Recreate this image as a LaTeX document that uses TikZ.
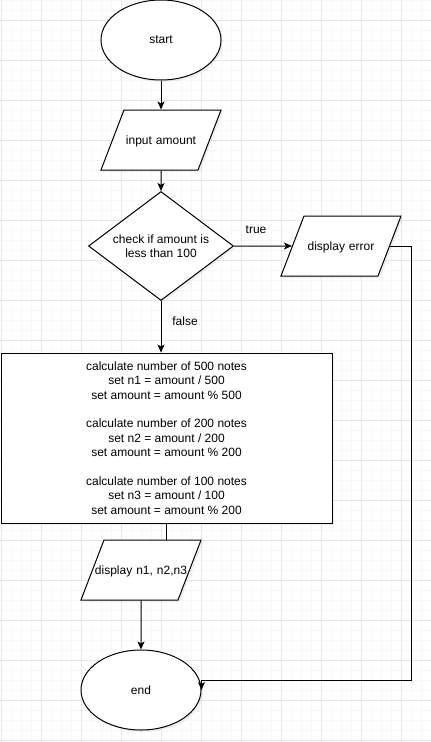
\documentclass[tikz,border=0pt]{standalone}
\usepackage{fontspec}
\setmainfont{Liberation Sans}
\usetikzlibrary{shapes.geometric, arrows.meta, shadows}
\definecolor{gridminor}{HTML}{F7F7F7}
\definecolor{gridmajor}{HTML}{E6E6E6}

\begin{document}
\begin{tikzpicture}[x = 1pt, y = -1pt,
  every node/.style = {font = \fontsize{12}{14.4}\selectfont, inner sep = 0pt},
  shade/.style = {drop shadow = {shadow xshift = 2pt, shadow yshift = -2pt, opacity = 0.12}},
  terminal/.style = {ellipse, draw, fill = white, line width = 1pt, minimum width = 120pt, minimum height = 80pt, shade},
  io/.style = {trapezium, trapezium left angle = 69, trapezium right angle = 111, draw, fill = white, line width = 1pt, text width = 74pt, text height = 34pt, text depth = 26pt, align = center, shade},
  decision/.style = {diamond, aspect = 1.33, draw, fill = white, line width = 1pt, minimum width = 145pt, minimum height = 109pt, align = center, shade},
  process/.style = {rectangle, draw, fill = white, line width = 1pt, minimum width = 331pt, minimum height = 170pt, align = center, shade},
  flow/.style = {line width = 1pt, -{Stealth[length = 8pt, width = 7pt, inset = 2pt]}},
  lbl/.style = {inner sep = 0pt}]
\useasboundingbox (0,0) rectangle (431,742);
\fill[white] (0,0) rectangle (431,742);
% grid
\foreach \x in {1,11,...,431} \draw[gridminor, line width = 1pt] (\x,0) -- (\x,742);
\foreach \y in {0,10,...,742} \draw[gridminor, line width = 1pt] (0,\y) -- (431,\y);
\foreach \x in {1,41,...,431} \draw[gridmajor, line width = 1pt] (\x,0) -- (\x,742);
\foreach \y in {20,60,...,742} \draw[gridmajor, line width = 1pt] (0,\y) -- (431,\y);

\node[terminal] (start) at (161,40) {start};
\node[io] (input) at (161,140) {input amount};
\node[decision] (check) at (161,246) {check if amount is\\less than 100};
\node[io] (err) at (341,246) {display error};
\node[process] (calc) at (166.5,438) {calculate number of 500 notes\\set n1 = amount / 500\\set amount = amount \% 500\\[14.4pt]calculate number of 200 notes\\set n2 = amount / 200\\set amount = amount \% 200\\[14.4pt]calculate number of 100 notes\\set n3 = amount / 100\\set amount = amount \% 200};
\node[io] (disp) at (141,570) {\makebox[0pt]{display n1, n2,n3}};
\node[terminal] (stop) at (141,690) {end};
\coordinate (bend) at (411,680);

\draw[flow] (start) -- (input);
\draw[flow] (input) -- (check);
\draw[flow] (check) -- node[lbl, pos = 0.38, yshift = 16pt] {true} (err);
\draw[flow] (check.south) -- node[lbl, pos = 0.4, xshift = 24pt] {false} (check.south |- calc.north);
\draw[line width = 1pt] (calc.south) -- (calc.south |- disp.north);
\draw[flow] (disp) -- (stop);
\draw[flow] (err.east) -| (bend) -| (stop.east);
\end{tikzpicture}
\end{document}
